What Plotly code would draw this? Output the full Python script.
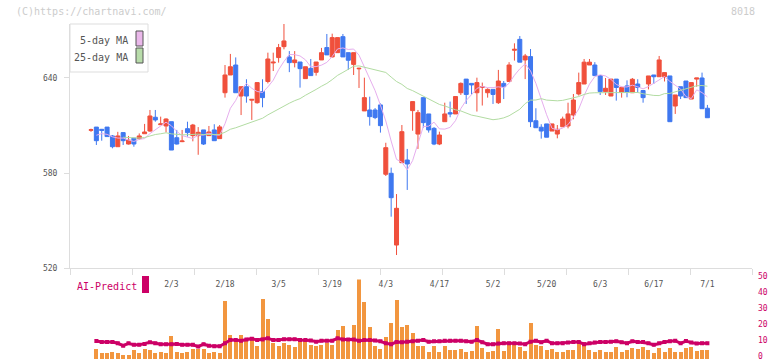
import pandas as pd
import plotly.graph_objects as go

# ---------------- data ----------------
opens = [607.0, 609.0, 607.6, 609.0, 603.4, 596.6, 605.5, 598.3, 602.0, 601.7,
         604.8, 606.5, 615.2, 610.5, 609.7, 612.4, 602.3, 599.8, 608.0, 603.6,
         603.6, 607.2, 603.6, 607.2, 601.7, 630.7, 641.9, 648.2, 628.6, 634.5,
         626.0, 624.4, 631.4, 637.8, 649.5, 652.9, 659.8, 653.3, 649.7, 650.1,
         639.6, 646.1, 643.6, 651.4, 659.2, 653.3, 656.0, 666.1, 656.0, 648.6,
         645.8, 619.2, 619.8, 619.8, 623.0, 579.2, 579.8, 534.5, 586.5, 588.2,
         619.4, 604.6, 627.6, 617.3, 608.2, 598.3, 612.4, 618.1, 617.3, 630.7,
         639.3, 636.6, 630.7, 634.0, 630.7, 632.8, 624.4, 636.6, 637.8, 657.5,
         664.4, 651.4, 653.5, 613.0, 608.9, 611.0, 606.5, 604.6, 609.2, 609.7,
         616.6, 629.9, 636.2, 648.2, 648.2, 641.5, 631.4, 628.6, 639.3, 630.9,
         635.0, 630.7, 636.2, 632.1, 636.2, 641.9, 640.8, 640.8, 641.3, 622.3,
         634.5, 638.1, 626.7, 639.3, 640.0, 620.9]
highs = [608.0, 609.0, 607.8, 609.0, 604.0, 606.0, 605.5, 603.4, 602.0, 605.0,
         611.0, 619.8, 619.8, 615.6, 614.5, 612.4, 607.2, 607.2, 612.4, 611.0,
         609.0, 607.2, 609.7, 610.8, 610.3, 648.2, 655.2, 653.0, 634.5, 639.2,
         626.5, 637.1, 639.2, 656.0, 656.0, 661.5, 674.1, 657.0, 657.0, 650.1,
         647.1, 652.0, 650.1, 659.0, 667.8, 668.0, 665.5, 667.8, 656.0, 656.0,
         646.5, 640.2, 628.2, 621.0, 624.0, 599.1, 583.4, 566.7, 610.3, 595.2,
         625.1, 619.8, 627.6, 617.3, 609.0, 606.1, 624.4, 625.1, 628.3, 637.2,
         639.3, 636.6, 640.2, 637.1, 633.5, 632.8, 645.1, 638.1, 650.0, 661.9,
         666.5, 655.2, 658.3, 620.9, 610.8, 611.0, 611.0, 610.3, 615.6, 624.4,
         629.9, 643.4, 652.0, 652.0, 650.0, 641.9, 640.0, 639.3, 639.3, 634.5,
         638.5, 640.0, 639.2, 632.1, 641.3, 641.9, 653.9, 643.4, 641.3, 629.3,
         634.5, 638.1, 637.1, 640.0, 643.4, 623.0]
lows = [606.0, 597.7, 600.4, 603.0, 595.6, 596.6, 597.7, 598.0, 596.6, 601.0,
        604.8, 606.0, 612.4, 610.5, 605.7, 594.5, 598.0, 599.5, 603.0, 600.0,
        591.5, 597.7, 603.6, 600.4, 601.7, 627.6, 641.9, 630.7, 616.6, 624.4,
        613.5, 623.8, 621.5, 636.6, 644.4, 649.7, 658.1, 643.7, 646.7, 633.9,
        639.6, 641.5, 641.5, 651.4, 654.6, 653.0, 656.0, 653.3, 645.1, 641.9,
        633.7, 619.2, 609.9, 614.0, 605.5, 578.1, 552.4, 528.2, 586.5, 569.3,
        606.7, 595.2, 608.6, 605.5, 597.6, 597.6, 612.4, 615.2, 617.3, 629.3,
        623.6, 629.6, 618.8, 622.6, 627.6, 623.6, 623.6, 626.7, 637.8, 651.0,
        650.0, 639.3, 609.0, 608.6, 601.7, 602.6, 606.5, 601.9, 609.2, 608.2,
        613.9, 628.9, 636.2, 648.2, 641.5, 629.3, 629.3, 628.6, 625.7, 627.6,
        627.8, 630.7, 630.7, 624.4, 632.8, 636.2, 640.8, 637.8, 612.4, 617.3,
        626.7, 627.6, 626.7, 634.5, 620.6, 614.9]
closes = [607.3, 600.4, 606.9, 603.0, 596.6, 603.4, 600.4, 600.8, 598.3, 603.4,
          605.9, 616.0, 613.5, 611.0, 614.1, 594.5, 598.3, 600.2, 605.5, 610.3,
          605.7, 598.3, 605.9, 600.4, 609.1, 641.9, 647.1, 630.7, 634.5, 628.6,
          626.5, 637.1, 627.6, 652.0, 650.0, 659.2, 663.4, 649.7, 651.4, 645.9,
          647.1, 641.5, 650.1, 656.0, 654.6, 665.5, 665.5, 653.3, 651.2, 656.0,
          646.1, 627.6, 615.6, 615.0, 609.9, 596.0, 564.4, 557.7, 606.1, 585.7,
          625.1, 618.1, 611.8, 607.2, 598.3, 604.0, 617.3, 617.3, 628.3, 636.6,
          629.6, 635.6, 637.1, 634.5, 632.8, 629.6, 638.1, 634.5, 648.2, 658.1,
          650.0, 653.9, 612.4, 608.6, 606.5, 602.6, 611.0, 607.6, 614.1, 617.3,
          626.1, 637.1, 650.0, 650.0, 641.5, 631.4, 633.5, 639.3, 634.0, 634.0,
          630.9, 639.2, 634.0, 627.6, 641.3, 640.8, 651.4, 643.4, 612.4, 629.3,
          628.6, 627.6, 637.1, 640.0, 620.6, 614.9]
volume = [None, 6.9, 4.4, 4.4, 5.0, 3.8, 3.1, 3.1, 5.7, 3.8,
          6.9, 5.7, 3.8, 5.0, 3.8, 14.5, 5.0, 3.8, 5.0, 6.3,
          6.9, 6.9, 4.4, 5.0, 3.8, 36.5, 15.7, 12.0, 15.1, 12.0,
          13.9, 8.8, 37.8, 25.2, 10.1, 8.8, 10.1, 9.4, 7.6, 12.0,
          12.0, 9.4, 8.8, 9.4, 10.1, 9.4, 18.3, 20.8, 12.0, 21.4,
          50.4, 35.9, 20.2, 8.2, 6.3, 13.9, 22.9, 37.2, 20.2, 21.4,
          16.4, 8.2, 8.2, 5.0, 8.5, 5.0, 8.5, 6.0, 6.0, 6.5,
          5.0, 5.5, 21.0, 7.0, 5.0, 5.5, 19.0, 5.5, 9.0, 11.0,
          8.0, 5.5, 23.0, 9.0, 8.5, 6.0, 6.5, 4.5, 4.5, 6.0,
          6.0, 11.0, 11.0, 6.0, 4.5, 6.0, 5.0, 4.5, 8.0, 4.5,
          6.0, 7.0, 6.5, 8.0, 6.0, 3.8, 7.5, 5.0, 7.5, 5.0,
          4.5, 7.5, 8.0, 5.5, 6.0, 6.0]
ai_predict = [None, 11.3, 10.7, 10.7, 10.7, 9.9, 8.4, 9.9, 8.9, 8.9,
              9.5, 10.5, 9.9, 9.3, 9.3, 9.3, 9.5, 8.9, 8.9, 8.9,
              7.8, 9.3, 8.4, 8.0, 8.0, 9.9, 11.9, 11.9, 11.5, 12.3,
              12.8, 11.9, 12.3, 13.0, 11.9, 11.9, 12.5, 12.5, 12.5, 11.9,
              11.9, 11.7, 10.9, 11.5, 11.5, 11.5, 13.0, 12.3, 12.3, 12.3,
              11.5, 11.9, 11.9, 11.7, 11.1, 9.9, 9.3, 10.7, 10.5, 10.9,
              11.1, 11.5, 11.9, 10.9, 11.1, 11.1, 11.5, 11.5, 11.5, 11.5,
              11.1, 10.9, 11.9, 10.5, 9.3, 9.3, 9.7, 9.9, 9.9, 9.9,
              9.7, 9.3, 10.9, 11.5, 10.5, 11.5, 9.9, 9.9, 9.9, 10.3,
              10.7, 10.7, 9.3, 9.9, 10.3, 10.7, 10.7, 10.9, 11.1, 10.5,
              9.9, 11.1, 10.7, 10.7, 9.9, 8.9, 9.9, 10.7, 11.1, 11.5,
              9.9, 11.3, 10.3, 9.7, 9.9, 9.9]

holidays = ["2025-01-13", "2025-02-11", "2025-02-24", "2025-03-20",
            "2025-04-29", "2025-05-05", "2025-05-06"]
dates = pd.bdate_range("2025-01-10", "2025-07-01", freq="C", holidays=holidays)
label_idx = list(range(15, len(dates), 10))
tick_labels = [f"{dates[i].month}/{dates[i].day}" for i in label_idx]
price_ticks = [520, 580, 640]
vol_ticks = [0, 10, 20, 30, 40, 50]

x = list(range(len(closes)))
cl = pd.Series(closes)
ma5 = cl.rolling(5, min_periods=1).mean()
ma25 = cl.rolling(25, min_periods=1).mean()

# ---------------- styling ----------------
W, H = 772, 361
RED, BLUE = "#F0503C", "#3F78F0"
MAG = "#CC0066"
MONO = "DejaVu Sans Mono, monospace"
px_per = 5.36
x0_px, x1_px = 70, 752
first_px = 91
xr = [-(first_px - x0_px) / px_per, (x1_px - first_px) / px_per]
grid_ticks = [xr[0] + 62 * k / px_per for k in range(12)]

def py(p):
    return 1 - p / H

def pxx(p):
    return p / W

fig = go.Figure()
fig.add_trace(go.Candlestick(
    x=x, open=opens, high=highs, low=lows, close=closes,
    increasing=dict(line=dict(color=RED, width=1), fillcolor=RED),
    decreasing=dict(line=dict(color=BLUE, width=1), fillcolor=BLUE),
    whiskerwidth=0, showlegend=False, xaxis="x", yaxis="y"))
fig.add_trace(go.Scatter(x=x[1:], y=ma5[1:], mode="lines",
                         line=dict(color="#E6AEEE", width=1), showlegend=False,
                         xaxis="x", yaxis="y"))
fig.add_trace(go.Scatter(x=x[6:], y=ma25[6:], mode="lines",
                         line=dict(color="#B2DCA2", width=1), showlegend=False,
                         xaxis="x", yaxis="y"))
fig.add_trace(go.Scatter(x=[xr[0]], y=[None], mode="markers", showlegend=False,
                         xaxis="x3", yaxis="y"))
fig.add_trace(go.Bar(x=x, y=volume, width=0.75, marker=dict(color="#F2963F", line=dict(width=0)),
                     showlegend=False, xaxis="x2", yaxis="y2"))
fig.add_trace(go.Scatter(x=x, y=ai_predict, mode="lines+markers",
                         line=dict(color=MAG, width=3),
                         marker=dict(color=MAG, size=4, symbol="square"),
                         showlegend=False, xaxis="x2", yaxis="y2"))

xdom = [pxx(x0_px), pxx(x1_px)]
fig.update_layout(
    width=W, height=H, autosize=False,
    margin=dict(l=0, r=0, t=0, b=0, pad=0),
    paper_bgcolor="white", plot_bgcolor="white",
    boxgap=0.25, boxgroupgap=0,
    bargap=0,
    xaxis=dict(domain=xdom, range=xr, anchor="y", showline=True, linecolor="#DDDDDD",
               linewidth=1, showgrid=False, zeroline=False, ticks="", automargin=False,
               tickvals=label_idx, ticktext=tick_labels, ticklabelstandoff=8,
               tickfont=dict(family=MONO, size=8, color="#555555"),
               rangeslider=dict(visible=False)),
    xaxis3=dict(domain=xdom, range=xr, anchor="y", overlaying="x", showline=False,
                showgrid=False, zeroline=False, ticks="outside", ticklen=6, automargin=False,
                tickcolor="#DDDDDD", tickvals=grid_ticks, showticklabels=False),
    yaxis=dict(domain=[py(268), py(24)], range=[520, 674.1], anchor="x", automargin=False,
               showline=True, linecolor="#DDDDDD", linewidth=1, showgrid=False,
               zeroline=False, ticks="outside", ticklen=5, tickcolor="#DDDDDD",
               tickvals=price_ticks, ticklabelstandoff=5,
               tickfont=dict(family=MONO, size=8, color="#555555")),
    xaxis2=dict(domain=xdom, range=xr, anchor="y2", visible=False, automargin=False),
    yaxis2=dict(domain=[py(359), py(279.5)], range=[0, 50], anchor="x2", side="right",
                showline=False, showgrid=False, zeroline=False, ticks="", automargin=False,
                tickvals=vol_ticks, ticklabelstandoff=5, ticklabelshift=-3,
                ticklabeloverflow="allow",
                tickfont=dict(family=MONO, size=8, color=MAG)),
)

shapes = [
    dict(type="rect", xref="paper", yref="paper", x0=pxx(70), x1=pxx(148), y0=py(72), y1=py(24),
         line=dict(color="#DDDDDD", width=1), fillcolor="white", layer="above"),
    dict(type="rect", xref="paper", yref="paper", x0=pxx(136), x1=pxx(143), y0=py(46), y1=py(31),
         line=dict(color="#555555", width=1), fillcolor="#EAB8EA", layer="above"),
    dict(type="rect", xref="paper", yref="paper", x0=pxx(136), x1=pxx(143), y0=py(63), y1=py(48),
         line=dict(color="#555555", width=1), fillcolor="#B8DCAA", layer="above"),
    dict(type="rect", xref="paper", yref="paper", x0=pxx(142), x1=pxx(149), y0=py(293), y1=py(276),
         line=dict(width=0), fillcolor=MAG, layer="above"),
]
annos = [
    dict(text="(C)https://chartnavi.com/", x=pxx(14), y=py(11), xanchor="left",
         font=dict(family=MONO, size=10, color="#CCCCCC")),
    dict(text="8018", x=pxx(757), y=py(11), xanchor="right",
         font=dict(family=MONO, size=10, color="#CCCCCC")),
    dict(text="5-day MA", x=pxx(130), y=py(40), xanchor="right",
         font=dict(family=MONO, size=10, color="#555555")),
    dict(text="25-day MA", x=pxx(130), y=py(57), xanchor="right",
         font=dict(family=MONO, size=10, color="#555555")),
    dict(text="AI-Predict", x=pxx(75), y=py(286), xanchor="left",
         font=dict(family=MONO, size=10, color=MAG)),
]
for a in annos:
    a.update(xref="paper", yref="paper", yanchor="middle", showarrow=False)
fig.update_layout(shapes=shapes, annotations=annos)

fig.write_html("out.html", config={"displayModeBar": False},
               post_script="document.body.style.margin='0';document.body.style.overflow='hidden';")
